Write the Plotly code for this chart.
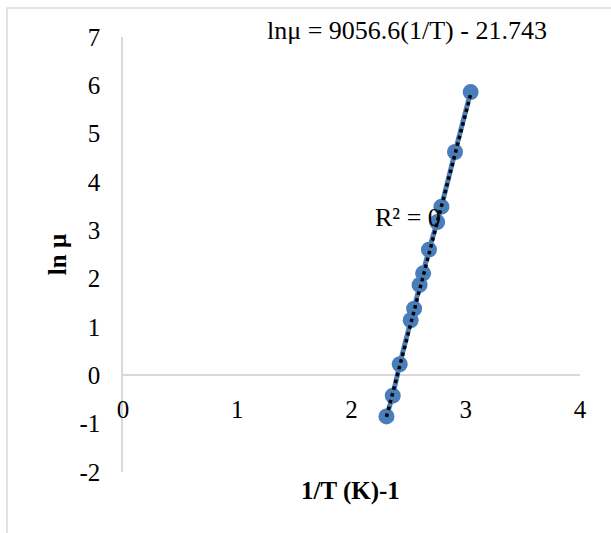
import numpy as np
import plotly.graph_objects as go

# Data (1/T scaled, ln viscosity)
inv_T = [2.306, 2.361, 2.422, 2.518, 2.548, 2.596, 2.627, 2.678, 2.750, 2.787, 2.906, 3.043]
ln_mu = [-0.85, -0.42, 0.23, 1.14, 1.38, 1.87, 2.11, 2.60, 3.17, 3.49, 4.62, 5.86]

# Trendline coefficients (display units: x = 1000/T)
slope = 9.0566
intercept = -21.743
equation_text = "lnμ = 9056.6(1/T) - 21.743"
r2_text = "R² = 0"

x_ticks = [0, 1, 2, 3, 4]
y_ticks = [-2, -1, 0, 1, 2, 3, 4, 5, 6, 7]

FONT = "Liberation Serif, Times New Roman, serif"
BLUE = "#4a7ebb"
GRAY = "#d9d9d9"

trend_x = np.array([min(inv_T), max(inv_T)])
trend_y = slope * trend_x + intercept

fig = go.Figure()
fig.add_trace(go.Scatter(
    x=inv_T, y=ln_mu, mode="lines+markers",
    line=dict(color=BLUE, width=5),
    marker=dict(color=BLUE, size=16),
    showlegend=False, hoverinfo="x+y"))
fig.add_trace(go.Scatter(
    x=trend_x, y=trend_y, mode="lines",
    line=dict(color="black", width=3.5, dash="dot"),
    showlegend=False, hoverinfo="skip"))

fig.update_layout(
    width=611, height=533,
    margin=dict(l=123, r=31, t=37, b=61),
    paper_bgcolor="white", plot_bgcolor="white",
    font=dict(family=FONT, size=25, color="black"),
    xaxis=dict(
        range=[0, 4], tickvals=x_ticks, ticktext=[str(v) for v in x_ticks],
        showgrid=False, zeroline=False, showline=False, ticks="",
        anchor="free", position=0.185, automargin=False,
        tickfont=dict(family=FONT, size=25),
    ),
    yaxis=dict(
        range=[-2, 7], tickvals=y_ticks, ticktext=[str(v) for v in y_ticks],
        showgrid=False, zeroline=True, zerolinecolor=GRAY, zerolinewidth=1.5,
        showline=True, linecolor=GRAY, linewidth=1.5, ticks="",
        ticklabelstandoff=16, automargin=False,
        tickfont=dict(family=FONT, size=25),
        title=dict(text="<b>ln μ</b>", font=dict(family=FONT, size=25), standoff=6),
    ),
    shapes=[dict(type="rect", xref="paper", yref="paper",
                 x0=-0.2538, x1=1.3, y0=-0.3, y1=1.0667,
                 line=dict(color=GRAY, width=1.5), fillcolor="rgba(0,0,0,0)",
                 layer="below")],
    annotations=[
        dict(text=equation_text, xref="paper", yref="paper",
             x=0.3107, y=1.016, xanchor="left", yanchor="middle",
             showarrow=False, font=dict(family=FONT, size=26)),
        dict(text=r2_text, xref="paper", yref="paper",
             x=0.547, y=0.586, xanchor="left", yanchor="middle",
             showarrow=False, font=dict(family=FONT, size=26)),
        dict(text="<b>1/T (K)-1</b>", xref="paper", yref="paper",
             x=0.497, y=-0.0437, xanchor="center", yanchor="middle",
             showarrow=False, font=dict(family=FONT, size=25)),
    ],
)

fig.write_html("out.html")
